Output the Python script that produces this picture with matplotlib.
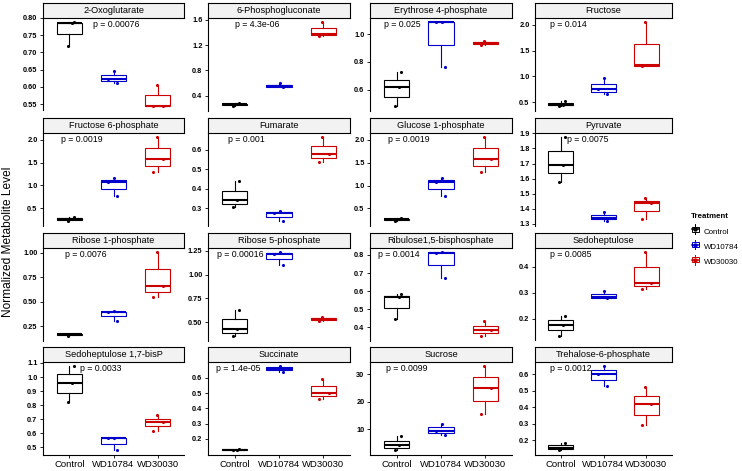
import numpy as np
import matplotlib
matplotlib.use("Agg")
import matplotlib.pyplot as plt
from matplotlib.legend_handler import HandlerBase
from matplotlib.patches import Rectangle
from matplotlib.lines import Line2D

plt.rcParams['font.family'] = ['Liberation Sans', 'DejaVu Sans']

groups = ["Control", "WD10784", "WD30030"]
colors = ["#000000", "#0000CD", "#CD0000"]

metabolites = ["2-Oxoglutarate", "6-Phosphogluconate", "Erythrose 4-phosphate", "Fructose",
               "Fructose 6-phosphate", "Fumarate", "Glucose 1-phosphate", "Pyruvate",
               "Ribose 1-phosphate", "Ribose 5-phosphate", "Ribulose1,5-bisphosphate", "Sedoheptulose",
               "Sedoheptulose 1,7-bisP", "Succinate", "Sucrose", "Trehalose-6-phosphate"]
p_values = ["0.00076", "4.3e-06", "0.025", "0.014",
            "0.0019", "0.001", "0.0019", "0.0075",
            "0.0076", "0.00016", "0.0014", "0.0085",
            "0.0033", "1.4e-05", "0.0099", "0.0012"]

# three replicates per treatment
control = [[0.720, 0.784, 0.789], [0.23, 0.26, 0.28], [0.48, 0.617, 0.725], [0.42, 0.45, 0.52],
           [0.21, 0.26, 0.30], [0.307, 0.341, 0.442], [0.22, 0.26, 0.29], [1.58, 1.69, 1.878],
           [0.145, 0.168, 0.172], [0.354, 0.43, 0.632], [0.448, 0.566, 0.584], [0.133, 0.178, 0.212],
           [0.82, 0.96, 1.08], [0.125, 0.13, 0.135], [2.5, 4.5, 7.5], [0.14, 0.155, 0.185]]
wd10784 = [[0.612, 0.623, 0.647], [0.53, 0.55, 0.60], [0.76, 1.087, 1.09], [0.66, 0.75, 0.97],
           [0.77, 1.07, 1.17], [0.234, 0.278, 0.285], [0.77, 1.07, 1.17], [1.316, 1.34, 1.38],
           [0.30, 0.395, 0.40], [1.10, 1.22, 1.24], [0.675, 0.812, 0.818], [0.278, 0.282, 0.305],
           [0.48, 0.565, 0.57], [0.64, 0.66, 0.68], [8.0, 9.5, 12.0], [0.53, 0.60, 0.65]]
wd30030 = [[0.544, 0.546, 0.607], [1.34, 1.38, 1.57], [0.925, 0.937, 0.948], [1.205, 1.215, 2.06],
           [1.29, 1.58, 2.07], [0.54, 0.577, 0.668], [1.29, 1.58, 2.07], [1.33, 1.437, 1.47],
           [0.548, 0.658, 1.01], [0.515, 0.535, 0.556], [0.351, 0.388, 0.433], [0.315, 0.337, 0.457],
           [0.62, 0.68, 0.73], [0.46, 0.50, 0.59], [15.5, 25.0, 33.0], [0.29, 0.42, 0.52]]

y_breaks = [[0.55, 0.60, 0.65, 0.70, 0.75, 0.80], [0.4, 0.8, 1.2, 1.6], [0.6, 0.8, 1.0], [0.5, 1.0, 1.5, 2.0],
            [0.5, 1.0, 1.5, 2.0], [0.3, 0.4, 0.5, 0.6], [0.5, 1.0, 1.5, 2.0], [1.3, 1.4, 1.5, 1.6, 1.7, 1.8, 1.9],
            [0.25, 0.50, 0.75, 1.00], [0.50, 0.75, 1.00, 1.25], [0.4, 0.5, 0.6, 0.7, 0.8], [0.2, 0.3, 0.4],
            [0.5, 0.6, 0.7, 0.8, 0.9, 1.0, 1.1], [0.2, 0.3, 0.4, 0.5, 0.6], [10, 20, 30], [0.2, 0.3, 0.4, 0.5, 0.6]]

# where the p-value label starts (x in group units)
p_label_x = [1.53, 1.01, 0.72, 0.76, 0.81, 0.85, 0.81, 1.15,
             0.90, 0.60, 0.58, 0.74, 1.24, 0.58, 0.76, 0.76]

jitter = [[-0.03, 0.05, 0.10], [0.08, -0.12, 0.02], [-0.10, 0.12, -0.02]]

W, H = 742, 471
col_left = [43, 208, 370, 535]
col_width = [141, 142, 142, 137]
row_top = [3, 118, 233, 347]
strip_h = 14.5
plot_h = 93


def fmt_ticks(ticks):
    dec = 0
    for t in ticks:
        s = ("%.6f" % t).rstrip("0")
        dec = max(dec, len(s.split(".")[1]) if "." in s else 0)
    return [("%." + str(dec) + "f") % t for t in ticks]


fig = plt.figure(figsize=(W / 100, H / 100), dpi=100)

for i, name in enumerate(metabolites):
    r, c = divmod(i, 4)
    x0, w, top = col_left[c], col_width[c], row_top[r]
    ax = fig.add_axes([x0 / W, 1 - (top + strip_h + plot_h) / H, w / W, plot_h / H])
    sx = fig.add_axes([x0 / W, 1 - (top + strip_h) / H, w / W, strip_h / H])

    data = [control[i], wd10784[i], wd30030[i]]
    bp = ax.boxplot(data, positions=[1, 2, 3], widths=0.57, showcaps=False, showfliers=False,
                    patch_artist=True, whis=1.5)
    for g in range(3):
        col = colors[g]
        bp['boxes'][g].set(facecolor="white", edgecolor=col, linewidth=0.8)
        bp['medians'][g].set(color=col, linewidth=1.5)
        for wl in bp['whiskers'][2 * g:2 * g + 2]:
            wl.set(color=col, linewidth=0.8)
        xs = np.array([g + 1] * 3) + np.array(jitter[g])
        ax.scatter(xs, data[g], s=5, color=col, zorder=3, linewidths=0)

    allv = np.concatenate(data)
    lo, hi = allv.min(), allv.max()
    rng = hi - lo
    ax.set_ylim(lo - 0.05 * rng, hi + 0.05 * rng)
    ax.set_xlim(0.4, 3.6)
    ax.set_yticks(y_breaks[i], fmt_ticks(y_breaks[i]), fontweight='bold')
    ax.tick_params(axis='y', length=2.5, width=0.6, labelsize=5.3, pad=1.5, colors='black')

    for s in ['top', 'right']:
        ax.spines[s].set_visible(False)
    ax.spines['left'].set_linewidth(0.8)
    if r == 3:
        ax.set_xticks([1, 2, 3], groups)
        ax.tick_params(axis='x', length=2.5, width=0.6, labelsize=6.8, pad=1.5)
        ax.spines['bottom'].set_linewidth(0.8)
    else:
        ax.set_xticks([])
        ax.spines['bottom'].set_visible(False)

    ax.text(p_label_x[i], 0.92, "p = " + p_values[i], transform=ax.get_xaxis_transform(),
            ha='left', va='center', fontsize=6.3)

    sx.set_facecolor("#F2F2F2")
    sx.set_xticks([])
    sx.set_yticks([])
    for s in sx.spines.values():
        s.set_linewidth(0.8)
    sx.text(0.5, 0.5, name, ha='center', va='center', fontsize=6.6, transform=sx.transAxes)

fig.text(8 / W, 1 - 242 / H, "Normalized Metabolite Level", rotation=90, ha='center', va='center',
         fontsize=8.6)


class BoxKey(HandlerBase):
    def create_artists(self, legend, orig, xd, yd, w, h, fs, trans):
        c = orig.get_color()
        wl = Line2D([xd + 0.5 * w] * 2, [yd - 0.2 * h, yd + 1.2 * h], color=c, lw=0.7, transform=trans)
        box = Rectangle((xd + 0.1 * w, yd + 0.15 * h), 0.8 * w, 0.7 * h, facecolor="white",
                        edgecolor=c, lw=0.7, transform=trans)
        med = Line2D([xd + 0.1 * w, xd + 0.9 * w], [yd + 0.5 * h] * 2, color=c, lw=1.1, transform=trans)
        dot = Line2D([xd + 0.5 * w], [yd + 0.5 * h], marker='o', ms=2.2, color=c, lw=0, transform=trans)
        return [wl, box, med, dot]


handles = [Line2D([], [], color=col, label=g) for g, col in zip(groups, colors)]
fig.legend(handles=handles, loc='upper left', bbox_to_anchor=(684 / W, 1 - 206 / H),
           frameon=False, fontsize=5.7, title="Treatment",
           title_fontproperties={'weight': 'bold', 'size': 5.7},
           handler_map={Line2D: BoxKey()}, handlelength=1.1, handleheight=1.0,
           handletextpad=0.5, labelspacing=0.9, alignment='left')

fig.savefig("out.png", dpi=100)
